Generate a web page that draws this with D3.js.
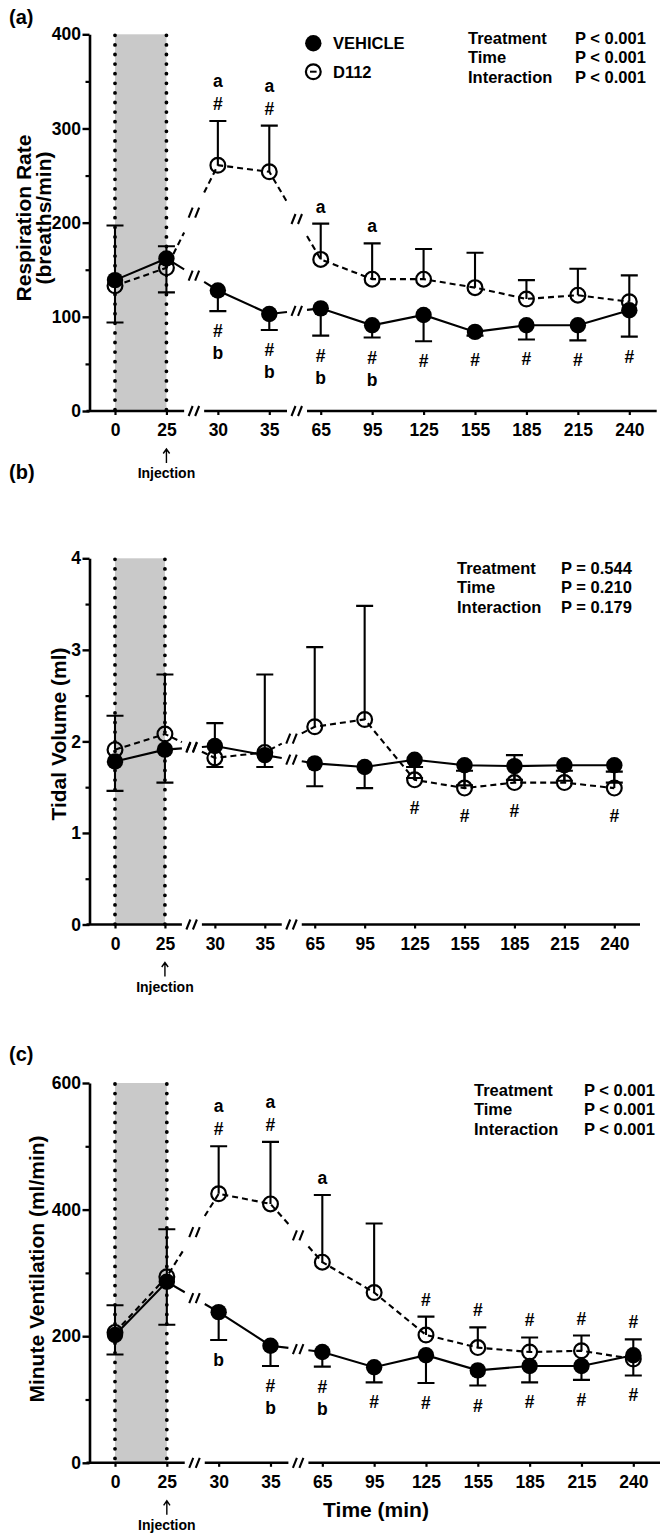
<!DOCTYPE html>
<html>
<head>
<meta charset="utf-8">
<script src="https://cdn.jsdelivr.net/npm/d3@7"></script>
<style>
  body { margin: 0; background: #fff; }
  text { font-family: "Liberation Sans", Arial, Helvetica, sans-serif; font-weight: bold; fill: #000; }
</style>
</head>
<body>
<script>
// time points (categorical, with axis breaks after 25 and 35)
var times = ["0", "25", "30", "35", "65", "95", "125", "155", "185", "215", "240"];
var breakAfter = [1, 3];

// (a) respiration rate
var respVehicle    = [139, 162, 128, 103, 109, 91, 102, 84, 91, 91, 107];
var respVehicleLow = [94, 126, 106, 86, 80, 78, 74, 80, 76, 75, 79];
var respD112       = [133, 152, 261, 254, 161, 140, 140, 131, 119, 123, 116];
var respD112High   = [197, 175, 308, 303, 199, 178, 172, 168, 139, 151, 144];
var respTicks = [0, 100, 200, 300, 400];
var respMinor = [50, 150, 250, 350];
var respAbove = [[], [], ["#", "a"], ["#", "a"], ["a"], ["a"], [], [], [], [], []];
var respBelow = [[], [], ["#", "b"], ["#", "b"], ["#", "b"], ["#", "b"], ["#"], ["#"], ["#"], ["#"], ["#"]];
var respStats = [["Treatment", "P < 0.001"], ["Time", "P < 0.001"], ["Interaction", "P < 0.001"]];

// (b) tidal volume
var tidalVehicle    = [1.78, 1.91, 1.95, 1.85, 1.76, 1.72, 1.80, 1.74, 1.73, 1.74, 1.74];
var tidalVehicleLow = [1.46, 1.55, 1.72, 1.72, 1.51, 1.49, 1.60, 1.52, 1.58, 1.57, 1.55];
var tidalD112       = [1.91, 2.08, 1.82, 1.88, 2.16, 2.24, 1.58, 1.49, 1.55, 1.55, 1.49];
var tidalD112High   = [2.28, 2.73, 2.20, 2.73, 3.03, 3.48, 1.72, 1.68, 1.85, 1.68, 1.67];
var tidalTicks = [0, 1, 2, 3, 4];
var tidalMinor = [0.5, 1.5, 2.5, 3.5];
var tidalAbove = [[], [], [], [], [], [], [], [], [], [], []];
var tidalBelow = [[], [], [], [], [], [], ["#"], ["#"], ["#"], [], ["#"]];
var tidalStats = [["Treatment", "P = 0.544"], ["Time", "P = 0.210"], ["Interaction", "P = 0.179"]];

// (c) minute ventilation
var ventVehicle    = [202, 286, 238, 185, 175, 151, 170, 146, 153, 153, 170];
var ventVehicleLow = [171, 218, 194, 153, 152, 127, 126, 122, 127, 131, 138];
var ventD112       = [206, 294, 425, 409, 317, 269, 202, 182, 175, 177, 164];
var ventD112High   = [249, 369, 500, 507, 423, 378, 231, 214, 198, 201, 195];
var ventTicks = [0, 200, 400, 600];
var ventMinor = [100, 300, 500];
var ventAbove = [[], [], ["#", "a"], ["#", "a"], ["a"], [], ["#"], ["#"], ["#"], ["#"], ["#"]];
var ventBelow = [[], [], ["b"], ["#", "b"], ["#", "b"], ["#"], ["#"], ["#"], ["#"], ["#"], ["#"]];
var ventStats = [["Treatment", "P < 0.001"], ["Time", "P < 0.001"], ["Interaction", "P < 0.001"]];

var width = 664, height = 1533;
var axisX = 89.5;

var svg = d3.select("body").append("svg")
  .attr("width", width).attr("height", height);

svg.append("rect").attr("width", width).attr("height", height).attr("fill", "#fff");

var panels = [
  { label: "(a)", labelY: 24, vehicle: respVehicle, vehicleLow: respVehicleLow, d112: respD112, d112High: respD112High,
    yMax: 400, ticks: respTicks, minor: respMinor, above: respAbove, below: respBelow, stats: respStats,
    top: 34.3, bottom: 411, step: 51.43, axisEnd: 656.7,
    titles: [["Respiration Rate", 23], ["(breaths/min)", 43]], titleY: 218,
    statX: [468, 575], statY: 44, legend: true },
  { label: "(b)", labelY: 478.5, vehicle: tidalVehicle, vehicleLow: tidalVehicleLow, d112: tidalD112, d112High: tidalD112High,
    yMax: 4, ticks: tidalTicks, minor: tidalMinor, above: tidalAbove, below: tidalBelow, stats: tidalStats,
    top: 558.3, bottom: 924.5, step: 49.93, axisEnd: 640,
    titles: [["Tidal Volume (ml)", 58]], titleY: 734,
    statX: [457, 561], statY: 574, legend: false },
  { label: "(c)", labelY: 1061, vehicle: ventVehicle, vehicleLow: ventVehicleLow, d112: ventD112, d112High: ventD112High,
    yMax: 600, ticks: ventTicks, minor: ventMinor, above: ventAbove, below: ventBelow, stats: ventStats,
    top: 1083, bottom: 1462.8, step: 51.83, axisEnd: 660,
    titles: [["Minute Ventilation (ml/min)", 36]], titleY: 1269,
    statX: [474, 584], statY: 1096, legend: false, xTitle: true }
];

// little "//" break glyph
function breakGlyph(g, cx, cy) {
  g.append("path")
    .attr("d", "M" + (cx - 5.5) + "," + (cy + 5) + "L" + (cx - 1.5) + "," + (cy - 5) +
               "M" + (cx + 1) + "," + (cy + 5) + "L" + (cx + 5) + "," + (cy - 5))
    .attr("stroke", "#000").attr("stroke-width", 2.1).attr("fill", "none");
}

function drawPanel(p) {
  var g = svg.append("g");
  var x = d3.scalePoint().domain(times).range([115, 115 + 10 * p.step]);
  var y = d3.scaleLinear().domain([0, p.yMax]).range([p.bottom, p.top]);
  var r = 8.2;

  // shaded baseline window
  g.append("rect")
    .attr("x", x("0")).attr("y", p.top)
    .attr("width", x("25") - x("0")).attr("height", p.bottom - p.top)
    .attr("fill", "#c9c9c9");

  ["0", "25"].forEach(function(t) {
    g.append("line")
      .attr("x1", x(t)).attr("x2", x(t)).attr("y1", p.top + 1).attr("y2", p.bottom)
      .attr("stroke", "#000").attr("stroke-width", 3.8)
      .attr("stroke-linecap", "round").attr("stroke-dasharray", "0,9.6");
  });

  // y axis
  var ya = g.append("g").attr("transform", "translate(" + axisX + ",0)")
    .call(d3.axisLeft(y).tickValues(p.ticks).tickSize(7).tickPadding(1.5).tickSizeOuter(0).tickFormat(d3.format("d")));
  ya.select(".domain").attr("stroke-width", 2.6);
  ya.selectAll(".tick line").attr("stroke-width", 2.4);
  ya.selectAll(".tick text").style("font-size", "17.5px").style("font-family", null);
  var ym = g.append("g").attr("transform", "translate(" + axisX + ",0)")
    .call(d3.axisLeft(y).tickValues(p.minor).tickSize(4).tickSizeOuter(0).tickFormat(""));
  ym.select(".domain").remove();
  ym.selectAll(".tick line").attr("stroke-width", 2.2);

  // x axis: ticks from d3, broken baseline drawn by hand
  var xa = g.append("g").attr("transform", "translate(0," + p.bottom + ")")
    .call(d3.axisBottom(x).tickSize(4).tickPadding(8.6));
  xa.select(".domain").remove();
  xa.selectAll(".tick line").attr("stroke-width", 2.2);
  xa.selectAll(".tick text").style("font-size", "17.5px").style("font-family", null);

  var mids = breakAfter.map(function(i) { return (x(times[i]) + x(times[i + 1])) / 2; });
  var segs = [[axisX - 3, mids[0] - 8], [mids[0] + 12, mids[1] - 8], [mids[1] + 12, p.axisEnd]];
  segs.forEach(function(s) {
    g.append("line").attr("x1", s[0]).attr("x2", s[1]).attr("y1", p.bottom).attr("y2", p.bottom)
      .attr("stroke", "#000").attr("stroke-width", 2.6);
  });
  mids.forEach(function(m) { breakGlyph(g, m + 2, p.bottom); });

  // injection marker
  var ix = x("25");
  g.append("path")
    .attr("d", "M" + ix + "," + (p.bottom + 52) + "L" + ix + "," + (p.bottom + 38) +
               "M" + (ix - 3.2) + "," + (p.bottom + 42.5) + "L" + ix + "," + (p.bottom + 38) + "L" + (ix + 3.2) + "," + (p.bottom + 42.5))
    .attr("stroke", "#000").attr("stroke-width", 1.4).attr("fill", "none");
  g.append("text").attr("x", ix).attr("y", p.bottom + 67)
    .attr("text-anchor", "middle").style("font-size", "14px").text("Injection");

  // series lines with breaks
  function seriesPath(vals, glyphs) {
    var d = "M" + x(times[0]) + "," + y(vals[0]);
    for (var i = 0; i < vals.length - 1; i++) {
      var x1 = x(times[i]), y1 = y(vals[i]), x2 = x(times[i + 1]), y2 = y(vals[i + 1]);
      if (breakAfter.indexOf(i) >= 0) {
        var mid = (x1 + x2) / 2;
        var at = function(xx) { return y1 + (y2 - y1) * (xx - x1) / (x2 - x1); };
        d += "L" + (mid - 8) + "," + at(mid - 8) + "M" + (mid + 12) + "," + at(mid + 12) + "L" + x2 + "," + y2;
        glyphs.push([mid + 2, at(mid + 2)]);
      } else {
        d += "L" + x2 + "," + y2;
      }
    }
    return d;
  }
  var glyphs = [];
  g.append("path").attr("d", seriesPath(p.d112, glyphs))
    .attr("fill", "none").attr("stroke", "#000").attr("stroke-width", 2.1).attr("stroke-dasharray", "6,4");
  g.append("path").attr("d", seriesPath(p.vehicle, glyphs))
    .attr("fill", "none").attr("stroke", "#000").attr("stroke-width", 2.1);
  glyphs.forEach(function(q) { breakGlyph(g, q[0], q[1]); });

  // error bars: D112 upward, vehicle downward
  function errBar(xx, y0, y1) {
    g.append("path")
      .attr("d", "M" + xx + "," + y0 + "L" + xx + "," + y1 + "M" + (xx - 8.5) + "," + y1 + "L" + (xx + 8.5) + "," + y1)
      .attr("stroke", "#000").attr("stroke-width", 2.1).attr("fill", "none");
  }
  times.forEach(function(t, i) {
    errBar(x(t), y(p.d112[i]), y(p.d112High[i]));
    errBar(x(t), y(p.vehicle[i]), y(p.vehicleLow[i]));
  });

  // markers
  g.selectAll(".open").data(p.d112).enter().append("circle")
    .attr("cx", function(d, i) { return x(times[i]); }).attr("cy", function(d) { return y(d); })
    .attr("r", 7.4).attr("fill", "none").attr("stroke", "#000").attr("stroke-width", 2.2);
  g.selectAll(".filled").data(p.vehicle).enter().append("circle")
    .attr("cx", function(d, i) { return x(times[i]); }).attr("cy", function(d) { return y(d); })
    .attr("r", r).attr("fill", "#000");

  // significance letters
  times.forEach(function(t, i) {
    var topPix = Math.min(y(p.d112High[i]), y(p.d112[i]) - r, y(p.vehicle[i]) - r);
    var botPix = Math.max(y(p.vehicleLow[i]), y(p.vehicle[i]) + r, y(p.d112[i]) + r);
    p.above[i].forEach(function(s, k) {
      g.append("text").attr("x", x(t)).attr("y", topPix - 17 - 23 * k)
        .attr("text-anchor", "middle").attr("dominant-baseline", "central")
        .style("font-size", "17.5px").text(s);
    });
    p.below[i].forEach(function(s, k) {
      g.append("text").attr("x", x(t)).attr("y", botPix + 20 + 22 * k)
        .attr("text-anchor", "middle").attr("dominant-baseline", "central")
        .style("font-size", "17.5px").text(s);
    });
  });

  // stats block
  p.stats.forEach(function(row, k) {
    g.append("text").attr("x", p.statX[0]).attr("y", p.statY + 19.3 * k).style("font-size", "16.5px").text(row[0]);
    g.append("text").attr("x", p.statX[1]).attr("y", p.statY + 19.3 * k).style("font-size", "16.5px").text(row[1]);
  });

  // axis titles and panel label
  p.titles.forEach(function(tt) {
    g.append("text")
      .attr("transform", "translate(" + tt[1] + "," + p.titleY + ") rotate(-90)")
      .attr("text-anchor", "middle").attr("dominant-baseline", "central")
      .style("font-size", "21px").text(tt[0]);
  });
  g.append("text").attr("x", 9).attr("y", p.labelY).style("font-size", "20px").text(p.label);

  if (p.xTitle) {
    g.append("text").attr("x", 376).attr("y", p.bottom + 54)
      .attr("text-anchor", "middle").style("font-size", "21px").text("Time (min)");
  }

  if (p.legend) {
    g.append("circle").attr("cx", 313.3).attr("cy", 43.3).attr("r", r).attr("fill", "#000");
    g.append("circle").attr("cx", 313.3).attr("cy", 71.7).attr("r", 7.4)
      .attr("fill", "none").attr("stroke", "#000").attr("stroke-width", 2.2);
    g.append("line").attr("x1", 310).attr("x2", 316.6).attr("y1", 71.7).attr("y2", 71.7)
      .attr("stroke", "#000").attr("stroke-width", 2);
    g.append("text").attr("x", 333).attr("y", 49).style("font-size", "16.5px").text("VEHICLE");
    g.append("text").attr("x", 333).attr("y", 77.5).style("font-size", "16.5px").text("D112");
  }
}

panels.forEach(drawPanel);
</script>
</body>
</html>
